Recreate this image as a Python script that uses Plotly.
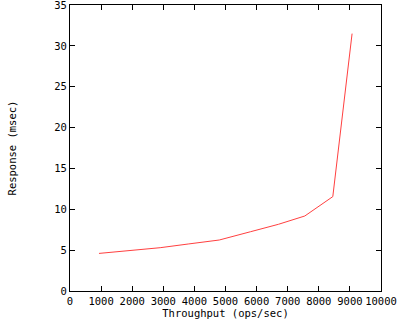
import plotly.graph_objects as go

throughput = [932, 1900, 2900, 3800, 4800, 5800, 6700, 7550, 8450, 9070]
response = [4.6, 4.94, 5.3, 5.75, 6.24, 7.25, 8.16, 9.18, 11.55, 31.5]

x_ticks = list(range(0, 10001, 1000))
y_ticks = list(range(0, 36, 5))

font = dict(family="DejaVu Sans Mono", size=10.5, color="black")

fig = go.Figure(go.Scatter(x=throughput, y=response, mode="lines",
                           line=dict(color="#ff4040", width=1)))

axis_common = dict(showline=True, linecolor="black", linewidth=1, mirror="ticks",
                   ticks="inside", ticklen=5, tickcolor="black", showgrid=False,
                   zeroline=False, tickfont=font, automargin=False,
                   ticklabeloverflow="allow")

fig.update_layout(
    width=400, height=320,
    margin=dict(l=70, r=19, t=5, b=29),
    paper_bgcolor="white", plot_bgcolor="white",
    showlegend=False,
    font=font,
    xaxis=dict(range=[0, 10000], tickvals=x_ticks, ticktext=[str(v) for v in x_ticks],
               title=dict(text="Throughput (ops/sec)", font=font, standoff=0), **axis_common),
    yaxis=dict(range=[0, 35], tickvals=y_ticks, ticktext=[str(v) for v in y_ticks],
               title=dict(text="Response (msec)", font=font, standoff=35), **axis_common),
)

fig.write_html("out.html", config={"displayModeBar": False},
               post_script="document.body.style.margin='0';document.body.style.overflow='hidden';")
